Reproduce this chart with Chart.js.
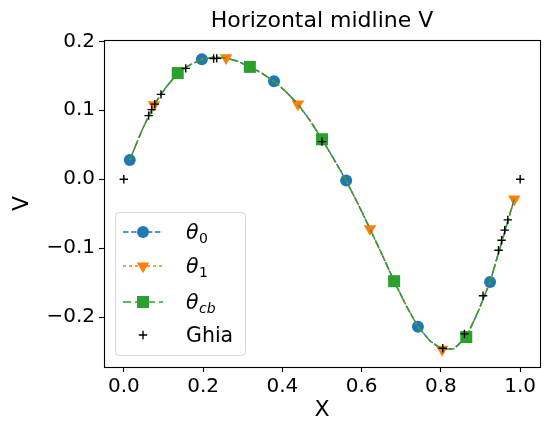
<!DOCTYPE html>
<html>
<head>
<meta charset="utf-8">
<script src="https://cdn.jsdelivr.net/npm/chart.js@4/dist/chart.umd.min.js"></script>
<style>
  html, body { margin: 0; padding: 0; background: #fff; }
  #c { display: block; }
</style>
</head>
<body>
<canvas id="c" width="552" height="423"></canvas>
<script>
// ---- data ----
const chartTitle = "Horizontal midline V";
const xLabel = "X";
const yLabel = "V";
const xTicks = [0.0, 0.2, 0.4, 0.6, 0.8, 1.0];
const yTicks = [-0.2, -0.1, 0.0, 0.1, 0.2];

// cell-centre positions along the midline
const xGrid = [0.015, 0.045, 0.076, 0.106, 0.136, 0.167, 0.197, 0.227, 0.258, 0.288,
               0.318, 0.348, 0.379, 0.409, 0.439, 0.470, 0.500, 0.530, 0.561, 0.591,
               0.621, 0.652, 0.682, 0.712, 0.742, 0.773, 0.803, 0.833, 0.864, 0.894,
               0.924, 0.955, 0.985];

const vTheta0 = [0.028, 0.070, 0.108, 0.133, 0.154, 0.166, 0.174, 0.177, 0.176, 0.171,
                 0.163, 0.154, 0.142, 0.127, 0.109, 0.085, 0.058, 0.029, -0.002, -0.036,
                 -0.072, -0.110, -0.148, -0.183, -0.214, -0.235, -0.247, -0.246, -0.229, -0.192,
                 -0.149, -0.088, -0.029];
const vTheta1 = [0.028, 0.070, 0.108, 0.133, 0.154, 0.166, 0.174, 0.177, 0.176, 0.171,
                 0.163, 0.154, 0.142, 0.127, 0.109, 0.085, 0.058, 0.029, -0.002, -0.036,
                 -0.072, -0.110, -0.148, -0.183, -0.214, -0.235, -0.247, -0.246, -0.229, -0.192,
                 -0.149, -0.088, -0.029];
const vThetaCb = [0.028, 0.070, 0.108, 0.133, 0.154, 0.166, 0.174, 0.177, 0.176, 0.171,
                  0.163, 0.154, 0.142, 0.127, 0.109, 0.085, 0.058, 0.029, -0.002, -0.036,
                  -0.072, -0.110, -0.148, -0.183, -0.214, -0.235, -0.247, -0.246, -0.229, -0.192,
                  -0.149, -0.088, -0.029];

// Ghia et al. reference points
const ghiaX = [1.0000, 0.9688, 0.9609, 0.9531, 0.9453, 0.9063, 0.8594, 0.8047, 0.5000,
               0.2344, 0.2266, 0.1563, 0.0938, 0.0781, 0.0703, 0.0625, 0.0000];
const ghiaV = [0.00000, -0.05906, -0.07391, -0.08864, -0.10313, -0.16914, -0.22445, -0.24533, 0.05454,
               0.17527, 0.17507, 0.16077, 0.12317, 0.10890, 0.10091, 0.09233, 0.00000];

// ---- styling ----
const BLUE = '#1f77b4', ORANGE = '#ff7f0e', GREEN = '#2ca02c';
const FONT = "'DejaVu Sans', sans-serif";
const TICK_PX = 20;

const toPts = (xs, ys) => xs.map((x, i) => ({ x: x, y: ys[i] }));
const fmt = v => {
  const s = Math.abs(v).toFixed(1);
  return (v < -1e-9 ? '\u2212' : '') + s;
};

const series = [
  { sub: '0',  color: BLUE,   dash: [5.55, 2.4], style: 'circle',   radius: 6,   rot: 0,   every: 0 },
  { sub: '1',  color: ORANGE, dash: [3, 3],      style: 'triangle', radius: 7.2, rot: 180, every: 2 },
  { sub: 'cb', color: GREEN,  dash: [8, 4],      style: 'rect',     radius: 8.5, rot: 0,   every: 4 }
];
const seriesData = [vTheta0, vTheta1, vThetaCb];

const datasets = series.map((s, k) => ({
  label: 'theta_' + s.sub,
  data: toPts(xGrid, seriesData[k]),
  showLine: true,
  borderColor: s.color,
  backgroundColor: s.color,
  borderWidth: 1.5,
  borderDash: s.dash,
  tension: 0,
  pointStyle: s.style,
  pointRotation: s.rot,
  pointRadius: ctx => (ctx.dataIndex % 6 === s.every ? s.radius : 0),
  pointHoverRadius: ctx => (ctx.dataIndex % 6 === s.every ? s.radius : 0),
  pointBorderWidth: 0,
  pointBackgroundColor: s.color,
  order: 10 - k
}));
datasets.push({
  label: 'Ghia',
  data: toPts(ghiaX, ghiaV),
  showLine: false,
  pointStyle: 'cross',
  pointRadius: 4.2,
  pointBorderWidth: 1.4,
  pointBorderColor: '#000',
  borderColor: '#000',
  order: 1
});

// frame (all four spines)
const framePlugin = {
  id: 'frame',
  afterDatasetsDraw(chart) {
    const { ctx, chartArea: a } = chart;
    ctx.save();
    ctx.strokeStyle = '#000';
    ctx.lineWidth = 1.1;
    ctx.strokeRect(Math.round(a.left) + 0.5, Math.round(a.top) + 0.5,
                   Math.round(a.right - a.left), Math.round(a.bottom - a.top));
    ctx.restore();
  }
};

function drawMarker(ctx, style, x, y, r, color) {
  ctx.save();
  ctx.fillStyle = color;
  ctx.beginPath();
  if (style === 'circle') {
    ctx.arc(x, y, r, 0, Math.PI * 2);
  } else if (style === 'rect') {
    const h = r * Math.SQRT1_2;
    ctx.rect(x - h, y - h, 2 * h, 2 * h);
  } else if (style === 'triangle') {
    const a0 = Math.PI;
    for (let i = 0; i < 3; i++) {
      const a = a0 + i * 2 * Math.PI / 3;
      const px = x + Math.sin(a) * r, py = y - Math.cos(a) * r;
      if (i === 0) ctx.moveTo(px, py); else ctx.lineTo(px, py);
    }
    ctx.closePath();
  }
  ctx.fill();
  ctx.restore();
}

// legend inside the axes (lower left), matplotlib style
const legendPlugin = {
  id: 'mplLegend',
  afterDraw(chart) {
    const { ctx, chartArea: a } = chart;
    const bx = a.left + 11, by = a.top + 172, bw = 130, bh = 143;
    ctx.save();
    ctx.beginPath();
    ctx.roundRect(bx + 0.5, by + 0.5, bw, bh, 4);
    ctx.fillStyle = 'rgba(255,255,255,0.8)';
    ctx.fill();
    ctx.strokeStyle = '#d6d6d6';
    ctx.lineWidth = 1;
    ctx.stroke();

    const rows = [by + 20, by + 54, by + 90, by + 123];
    const hx0 = bx + 8, hx1 = bx + 48, hxm = (hx0 + hx1) / 2;
    const tx = bx + 71;
    series.forEach((s, k) => {
      const y = rows[k];
      ctx.save();
      ctx.strokeStyle = s.color;
      ctx.lineWidth = 1.5;
      ctx.setLineDash(s.dash);
      ctx.beginPath();
      ctx.moveTo(hx0, y);
      ctx.lineTo(hx1, y);
      ctx.stroke();
      ctx.restore();
      drawMarker(ctx, s.style, hxm, y, s.radius, s.color);
      ctx.fillStyle = '#000';
      ctx.textBaseline = 'alphabetic';
      ctx.textAlign = 'left';
      ctx.font = 'italic ' + (TICK_PX + 0.5) + 'px ' + FONT;
      const base = y + 7;
      ctx.fillText('\u03b8', tx, base);
      const w = ctx.measureText('\u03b8').width;
      if (s.sub === 'cb') ctx.font = 'italic ' + (TICK_PX * 0.7).toFixed(1) + 'px ' + FONT;
      else ctx.font = (TICK_PX * 0.7).toFixed(1) + 'px ' + FONT;
      ctx.fillText(s.sub, tx + w + 0.5, base + 4);
    });
    const gy = rows[3];
    ctx.strokeStyle = '#000';
    ctx.lineWidth = 1.4;
    ctx.beginPath();
    ctx.moveTo(hxm - 4.2, gy); ctx.lineTo(hxm + 4.2, gy);
    ctx.moveTo(hxm, gy - 4.2); ctx.lineTo(hxm, gy + 4.2);
    ctx.stroke();
    ctx.fillStyle = '#000';
    ctx.font = (TICK_PX + 0.5) + 'px ' + FONT;
    ctx.fillText('Ghia', tx, gy + 7);
    ctx.restore();
  }
};

new Chart(document.getElementById('c'), {
  type: 'scatter',
  data: { datasets: datasets },
  plugins: [framePlugin, legendPlugin],
  options: {
    responsive: false,
    animation: false,
    devicePixelRatio: 1,
    layout: { padding: { left: 0, right: 12, top: 0, bottom: 0 } },
    plugins: {
      legend: { display: false },
      tooltip: { enabled: false },
      title: {
        display: true,
        fullSize: false,
        text: chartTitle,
        color: '#000',
        font: { family: FONT, size: 22, weight: 'normal' },
        padding: { top: 8, bottom: 5.6 }
      }
    },
    scales: {
      x: {
        type: 'linear',
        position: 'bottom',
        min: -0.05,
        max: 1.05,
        afterBuildTicks: sc => { sc.ticks = xTicks.map(v => ({ value: v })); },
        afterFit: sc => { sc.height = 56; },
        ticks: {
          color: '#000',
          font: { family: FONT, size: TICK_PX },
          padding: 3,
          maxRotation: 0,
          autoSkip: false,
          callback: v => fmt(v)
        },
        grid: { display: true, drawOnChartArea: false, drawTicks: true, tickLength: 5, tickWidth: 1.1, tickColor: '#000' },
        border: { display: false },
        title: { display: true, text: xLabel, color: '#000', font: { family: FONT, size: 22 }, padding: { top: 0, bottom: 0 } }
      },
      y: {
        type: 'linear',
        position: 'left',
        min: -0.2725,
        max: 0.202,
        afterBuildTicks: sc => { sc.ticks = yTicks.map(v => ({ value: v })); },
        afterFit: sc => { sc.width = 104; },
        ticks: {
          color: '#000',
          font: { family: FONT, size: TICK_PX },
          padding: 4,
          autoSkip: false,
          callback: v => fmt(v)
        },
        grid: { display: true, drawOnChartArea: false, drawTicks: true, tickLength: 5, tickWidth: 1.1, tickColor: '#000' },
        border: { display: false },
        title: { display: true, text: yLabel, color: '#000', font: { family: FONT, size: 22 }, padding: { top: 9, bottom: 0 } }
      }
    }
  }
});
</script>
</body>
</html>
